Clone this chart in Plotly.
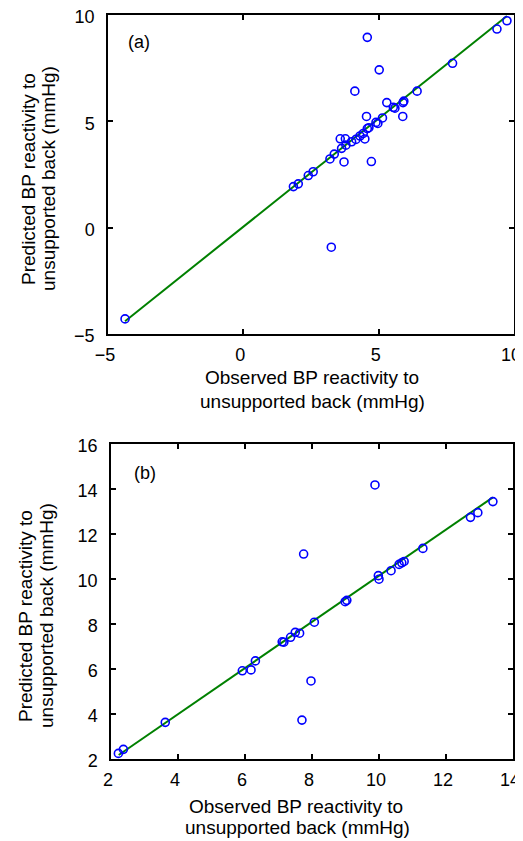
import plotly.graph_objects as go

# panel (a): observed vs predicted BP reactivity
obs_a = [-4.37, 1.85, 2.03, 2.40, 2.58, 3.20, 3.25, 3.36, 3.58, 3.63, 3.72, 3.77,
         3.79, 4.00, 4.12, 4.16, 4.31, 4.43, 4.49, 4.55, 4.58, 4.58, 4.64, 4.73,
         4.90, 4.97, 5.02, 5.14, 5.30, 5.54, 5.60, 5.89, 5.90, 5.93, 6.42, 7.73,
         9.37, 9.74]
pred_a = [-4.29, 1.93, 2.06, 2.45, 2.63, 3.23, -0.92, 3.46, 4.18, 3.73, 3.09, 4.18,
          3.88, 4.04, 6.42, 4.15, 4.31, 4.43, 4.17, 5.23, 4.66, 8.95, 4.70, 3.11,
          4.95, 4.90, 7.42, 5.16, 5.88, 5.66, 5.62, 5.23, 5.88, 5.95, 6.42, 7.73,
          9.34, 9.73]
fit_a_x = [-4.37, 9.74]
fit_a_y = [-4.40, 9.95]

# panel (b)
obs_b = [2.22, 2.37, 3.62, 5.92, 6.18, 6.31, 7.11, 7.16, 7.36, 7.50, 7.63, 7.70,
         7.75, 7.97, 8.07, 8.99, 9.04, 9.88, 9.98, 10.00, 10.36, 10.60, 10.68,
         10.75, 11.31, 12.73, 12.95, 13.40]
pred_b = [2.25, 2.43, 3.63, 5.92, 5.96, 6.36, 7.21, 7.19, 7.41, 7.63, 7.59, 3.73,
          11.11, 5.47, 8.08, 8.99, 9.05, 14.18, 10.15, 9.99, 10.37, 10.65, 10.72,
          10.78, 11.36, 12.74, 12.95, 13.44]
fit_b_x = [2.23, 13.40]
fit_b_y = [2.18, 13.63]

x_title = ["Observed BP reactivity to", "unsupported back (mmHg)"]
y_title = ["Predicted BP reactivity to", "unsupported back (mmHg)"]

# the page body has an 8px margin, so the figure is a bit smaller than the window
OFF = 8
W, H = 523 - OFF, 841 - OFF
font = "Liberation Sans, Arial, sans-serif"


def fx(x):
    return (x - OFF) / W


def fy(y):
    return 1 - (y - OFF) / H


fig = go.Figure()

marker = dict(symbol="circle-open", size=8, color="#0000ff", line=dict(width=1.6, color="#0000ff"))
green = dict(color="#008000", width=2)

fig.add_trace(go.Scatter(x=fit_a_x, y=fit_a_y, mode="lines", line=green, xaxis="x", yaxis="y"))
fig.add_trace(go.Scatter(x=obs_a, y=pred_a, mode="markers", marker=marker, xaxis="x", yaxis="y"))
fig.add_trace(go.Scatter(x=fit_b_x, y=fit_b_y, mode="lines", line=green, xaxis="x2", yaxis="y2"))
fig.add_trace(go.Scatter(x=obs_b, y=pred_b, mode="markers", marker=marker, xaxis="x2", yaxis="y2"))

ax = dict(showline=True, mirror="ticks", linecolor="black", linewidth=1.5,
          ticks="inside", ticklen=5, tickwidth=1.5, tickcolor="black",
          showgrid=False, zeroline=False, automargin=False,
          ticklabeloverflow="allow", tickfont=dict(size=18, color="black"))
xax = dict(ax, ticklabelshift=-3, ticklabelstandoff=4)
yax = dict(ax, ticklabelshift=2, ticklabelstandoff=8)

annots = []


def label(text, x, y, angle=0, size=19, anchor="center"):
    annots.append(dict(text=text, xref="paper", yref="paper", x=fx(x), y=fy(y),
                       xanchor=anchor, yanchor="middle", textangle=angle,
                       showarrow=False, font=dict(size=size, color="black")))


# axis titles, one annotation per line
label(x_title[0], 312, 378)
label(x_title[1], 312, 401)
label(y_title[0], 28, 179, angle=-90)
label(y_title[1], 48, 179, angle=-90)
label(x_title[0], 296, 806)
label(x_title[1], 297, 827)
label(y_title[0], 25, 616, angle=-90)
label(y_title[1], 46, 616, angle=-90)
label("(a)", 126, 42, size=18, anchor="left")
label("(b)", 132, 473, size=18, anchor="left")

fig.update_layout(
    width=W, height=H,
    margin=dict(l=0, r=0, t=0, b=0),
    paper_bgcolor="white", plot_bgcolor="white",
    showlegend=False,
    font=dict(family=font, color="black"),
    xaxis=dict(xax, domain=[fx(108), fx(514)], range=[-5, 10], tickvals=[-5, 0, 5, 10], anchor="y"),
    yaxis=dict(yax, domain=[fy(334), fy(15)], range=[-5, 10], tickvals=[-5, 0, 5, 10], anchor="x"),
    xaxis2=dict(xax, domain=[fx(111), fx(513)], range=[2, 14], tickvals=list(range(2, 15, 2)), anchor="y2"),
    yaxis2=dict(yax, domain=[fy(759), fy(444)], range=[2, 16], tickvals=list(range(2, 17, 2)), anchor="x2"),
    annotations=annots,
)

fig.write_html("out.html")
